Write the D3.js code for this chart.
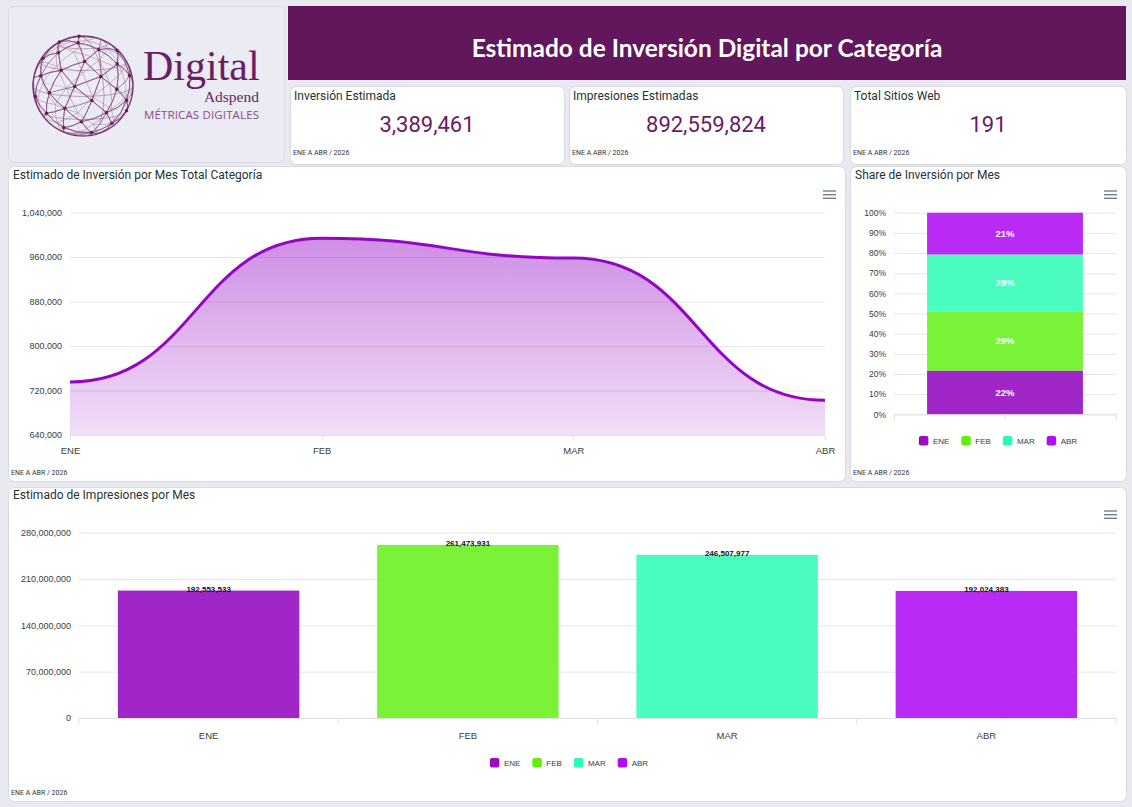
<!DOCTYPE html>
<html>
<head>
<meta charset="UTF-8">
<script src="https://d3js.org/d3.v7.min.js"></script>
<style>
  body { margin: 0; background: #e9e9f1; }
  svg { display: block; }
  svg text { font-family: "Liberation Sans", Arial, sans-serif; }
  .rob { font-family: Roboto, "Liberation Sans", sans-serif !important; }
</style>
</head>
<body>
<svg id="canvas"></svg>
<script>
const W = 1132, H = 807;

// datos
const meses = ["ENE", "FEB", "MAR", "ABR"];
const inversionMes = [735200, 993800, 958100, 702361];
const impresionesMes = [192553533, 261473931, 246507977, 192024383];
const coloresMes = ["#9b0cc1", "#63ef0c", "#27fcb5", "#b30bf6"];
const coloresBarra = ["#a026c8", "#79f237", "#4bfcbf", "#b92af5"];

const kpiTitulos = ["Inversión Estimada", "Impresiones Estimadas", "Total Sitios Web"];
const kpiValores = [3389461, 892559824, 191];
const periodo = "ENE A ABR / 2026";

const ticksInversion = [640000, 720000, 800000, 880000, 960000, 1040000];
const ticksImpresiones = [0, 70000000, 140000000, 210000000, 280000000];
const ticksShare = [0, 0.1, 0.2, 0.3, 0.4, 0.5, 0.6, 0.7, 0.8, 0.9, 1];

const fmt = d3.format(",");

const svg = d3.select("#canvas").attr("width", W).attr("height", H);
svg.append("rect").attr("width", W).attr("height", H).attr("fill", "#e9e9f1");

function card(x, y, w, h, fill) {
  svg.append("rect")
    .attr("x", x + 0.5).attr("y", y + 0.5)
    .attr("width", w).attr("height", h)
    .attr("rx", 6)
    .attr("fill", fill || "#fff")
    .attr("stroke", "#d9d9e1");
}
function menu(x, y) {
  [0, 3.7, 7.3].forEach(d => {
    svg.append("line")
      .attr("x1", x).attr("x2", x + 13)
      .attr("y1", y + d).attr("y2", y + d)
      .attr("stroke", "#6e8192").attr("stroke-width", 1.4);
  });
}
function footer(x, y) {
  svg.append("text").attr("class", "rob")
    .attr("x", x).attr("y", y)
    .attr("font-size", 7).attr("fill", "#333")
    .text(periodo);
}
function titulo(x, y, t) {
  svg.append("text").attr("class", "rob")
    .attr("x", x).attr("y", y)
    .attr("font-size", 12).attr("fill", "#263238")
    .text(t);
}

// ---------- logo ----------
card(8, 6, 276, 156, "#ebebf3");

const logo = svg.append("g");
const proj = d3.geoOrthographic().scale(50).translate([83, 86]).rotate([25, -12]);
const projBack = d3.geoOrthographic().scale(50).translate([83, 86]).rotate([25 - 180, 12]).reflectX(true);
const gp = d3.geoPath(proj), gpBack = d3.geoPath(projBack);

// nodos de la red (esfera de fibonacci)
const nNodos = 56;
const nodos = d3.range(nNodos).map(i => {
  const y = 1 - (i + 0.5) / nNodos * 2;
  const lon = (i * 137.508) % 360 - 180;
  return [lon, Math.asin(y) * 180 / Math.PI];
});
const aristas = [];
nodos.forEach((a, i) => {
  nodos.map((b, j) => ({ j, d: d3.geoDistance(a, b) }))
    .filter(o => o.j !== i)
    .sort((p, q) => p.d - q.d)
    .slice(0, 5)
    .forEach(o => aristas.push([a, nodos[o.j]]));
});
const red = { type: "MultiLineString", coordinates: aristas };

logo.append("path").datum(red).attr("d", gpBack)
  .attr("fill", "none").attr("stroke", "#b58ab0").attr("stroke-width", 0.6).attr("opacity", 0.6);
logo.append("path").datum(d3.geoGraticule().step([180, 30])()).attr("d", gp)
  .attr("fill", "none").attr("stroke", "#9a6494").attr("stroke-width", 0.6);
logo.append("path").datum(red).attr("d", gp)
  .attr("fill", "none").attr("stroke", "#874a80").attr("stroke-width", 0.7);
logo.append("path").datum({ type: "Sphere" }).attr("d", gp)
  .attr("fill", "none").attr("stroke", "#7a3272").attr("stroke-width", 1.3);
logo.selectAll("circle").data(nodos.filter(n => d3.geoDistance(n, [-25, 12]) < Math.PI / 2))
  .join("circle")
  .attr("cx", d => proj(d)[0]).attr("cy", d => proj(d)[1])
  .attr("r", 1.8).attr("fill", "#6a1d62");

svg.append("text").attr("x", 143).attr("y", 80)
  .style("font-family", '"Liberation Serif", serif')
  .attr("font-size", 42).attr("fill", "#6a1f62").text("Digital");
svg.append("text").attr("x", 259).attr("y", 102).attr("text-anchor", "end")
  .style("font-family", '"Liberation Serif", serif')
  .attr("font-size", 15.5).attr("fill", "#6a1f62").text("Adspend");
svg.append("text").attr("x", 144).attr("y", 119)
  .style("font-family", '"Open Sans", sans-serif')
  .attr("font-size", 11.5).attr("fill", "#8b4a87").attr("textLength", 115)
  .text("MÉTRICAS DIGITALES");

// ---------- encabezado ----------
svg.append("rect").attr("x", 288).attr("y", 6).attr("width", 838).attr("height", 74).attr("fill", "#62165b");
const head = svg.append("text").attr("x", 707).attr("y", 57).attr("text-anchor", "middle")
  .style("font-family", "Lato, sans-serif").attr("font-weight", 700)
  .attr("font-size", 24).attr("fill", "#fff")
  .text("Estimado de Inversión Digital por Categoría");
head.attr("font-size", 24 * 471 / head.node().getComputedTextLength());

// ---------- KPIs ----------
const kpiX = [290, 569, 850], kpiW = [274, 274, 276];
kpiTitulos.forEach((t, i) => {
  card(kpiX[i], 86, kpiW[i], 78);
  titulo(kpiX[i] + 4, 100, t);
  svg.append("text").attr("class", "rob")
    .attr("x", kpiX[i] + kpiW[i] / 2).attr("y", 132).attr("text-anchor", "middle")
    .attr("font-size", 22).attr("fill", "#6a1b64")
    .text(fmt(kpiValores[i]));
  footer(kpiX[i] + 3, 155);
});

// ---------- inversión por mes (área) ----------
card(8, 166, 837, 315);
titulo(13, 179, "Estimado de Inversión por Mes Total Categoría");
menu(823, 191);
footer(11, 475);

const xA = d3.scalePoint().domain(meses).range([70, 825]);
const yA = d3.scaleLinear().domain([640000, 1040000]).range([435, 212.5]);

const gA = svg.append("g");
gA.append("g").attr("transform", "translate(70,0)")
  .call(d3.axisLeft(yA).tickValues(ticksInversion).tickSize(-755).tickPadding(8).tickFormat(fmt))
  .call(g => g.select(".domain").remove())
  .call(g => g.selectAll("line").attr("stroke", "#e6e6e6"))
  .call(g => g.selectAll("text").attr("font-size", 9).attr("fill", "#373d3f").attr("dy", "0.32em"));

const grad = svg.append("defs").append("linearGradient").attr("id", "gArea")
  .attr("x1", 0).attr("y1", 0).attr("x2", 0).attr("y2", 1);
grad.append("stop").attr("offset", 0).attr("stop-color", "#9304c4").attr("stop-opacity", 0.45);
grad.append("stop").attr("offset", 1).attr("stop-color", "#9304c4").attr("stop-opacity", 0.13);

const datosA = meses.map((m, i) => ({ m, v: inversionMes[i] }));
gA.append("path").datum(datosA)
  .attr("d", d3.area().x(d => xA(d.m)).y0(435).y1(d => yA(d.v)).curve(d3.curveBumpX))
  .attr("fill", "url(#gArea)");
gA.append("path").datum(datosA)
  .attr("d", d3.line().x(d => xA(d.m)).y(d => yA(d.v)).curve(d3.curveBumpX))
  .attr("fill", "none").attr("stroke", "#9304c4").attr("stroke-width", 3);

gA.append("g").attr("transform", "translate(0,435)")
  .call(d3.axisBottom(xA).tickSize(6).tickPadding(6))
  .call(g => g.select(".domain").attr("stroke", "#e0e0e0"))
  .call(g => g.selectAll("line").attr("stroke", "#e0e0e0"))
  .call(g => g.selectAll("text").attr("font-size", 9.5).attr("fill", "#373d3f"));

// ---------- share por mes (barra apilada) ----------
card(850, 166, 276, 315);
titulo(855, 179, "Share de Inversión por Mes");
menu(1104, 191);
footer(853, 475);

const total = d3.sum(inversionMes);
const fila = {};
meses.forEach((m, i) => fila[m] = inversionMes[i] / total);
const pila = d3.stack().keys(meses)([fila]);

const xS = d3.scaleBand().domain(["share"]).range([894, 1116]).padding(0.175);
const yS = d3.scaleLinear().domain([0, 1]).range([414.3, 212.7]);

const gS = svg.append("g");
gS.append("g").attr("transform", "translate(894,0)")
  .call(d3.axisLeft(yS).tickValues(ticksShare).tickSize(-222).tickPadding(8).tickFormat(d3.format(".0%")))
  .call(g => g.select(".domain").remove())
  .call(g => g.selectAll("line").attr("stroke", "#e6e6e6"))
  .call(g => g.selectAll("text").attr("font-size", 8.5).attr("fill", "#373d3f"));

gS.selectAll("rect.seg").data(pila).join("rect").attr("class", "seg")
  .attr("x", xS("share")).attr("width", xS.bandwidth())
  .attr("y", d => yS(d[0][1])).attr("height", d => yS(d[0][0]) - yS(d[0][1]))
  .attr("fill", (d, i) => coloresBarra[i]);
gS.selectAll("text.lab").data(pila).join("text").attr("class", "lab")
  .attr("x", xS("share") + xS.bandwidth() / 2)
  .attr("y", d => (yS(d[0][0]) + yS(d[0][1])) / 2).attr("dy", "0.35em")
  .attr("text-anchor", "middle").attr("font-size", 9.5).attr("font-weight", 700).attr("fill", "#fff")
  .text(d => Math.round(fila[d.key] * 100) + "%");

gS.append("g").attr("transform", "translate(0,414.3)")
  .call(d3.axisBottom(xS).tickSize(6).tickFormat(""))
  .call(g => g.select(".domain").attr("stroke", "#e0e0e0"))
  .call(g => g.selectAll("line").attr("stroke", "#e0e0e0"));

function leyenda(cx, cy) {
  const g = svg.append("g");
  let x = 0;
  meses.forEach((m, i) => {
    g.append("rect").attr("x", x).attr("y", cy - 5).attr("width", 9.5).attr("height", 9.5)
      .attr("rx", 2).attr("fill", coloresMes[i]);
    const t = g.append("text").attr("x", x + 14).attr("y", cy).attr("dy", "0.35em")
      .attr("font-size", 8).attr("fill", "#373d3f").text(m);
    x += 14 + t.node().getComputedTextLength() + 12;
  });
  g.attr("transform", `translate(${cx - (x - 12) / 2},0)`);
}
leyenda(998, 441);

// ---------- impresiones por mes (barras) ----------
card(8, 487, 1118, 314);
titulo(13, 499, "Estimado de Impresiones por Mes");
menu(1104, 511);
footer(11, 795);

const xB = d3.scaleBand().domain(meses).range([79, 1116]).paddingInner(0.3).paddingOuter(0.15);
const yB = d3.scaleLinear().domain([0, 280000000]).range([718, 532.7]);

const gB = svg.append("g");
gB.append("g").attr("transform", "translate(79,0)")
  .call(d3.axisLeft(yB).tickValues(ticksImpresiones).tickSize(-1037).tickPadding(8).tickFormat(fmt))
  .call(g => g.select(".domain").remove())
  .call(g => g.selectAll("line").attr("stroke", "#e6e6e6"))
  .call(g => g.selectAll("text").attr("font-size", 9).attr("fill", "#373d3f"));

gB.selectAll("rect.bar").data(meses).join("rect").attr("class", "bar")
  .attr("x", d => xB(d)).attr("width", xB.bandwidth())
  .attr("y", (d, i) => yB(impresionesMes[i])).attr("height", (d, i) => 718 - yB(impresionesMes[i]))
  .attr("fill", (d, i) => coloresBarra[i]);
gB.selectAll("text.val").data(meses).join("text").attr("class", "val")
  .attr("x", d => xB(d) + xB.bandwidth() / 2).attr("y", (d, i) => yB(impresionesMes[i]) + 1)
  .attr("text-anchor", "middle").attr("font-size", 8).attr("font-weight", 700).attr("fill", "#111")
  .text((d, i) => fmt(impresionesMes[i]));

gB.append("g").attr("transform", "translate(0,718)")
  .call(d3.axisBottom(xB).tickSize(0).tickPadding(14))
  .call(g => g.select(".domain").attr("stroke", "#e0e0e0"))
  .call(g => g.selectAll("text").attr("font-size", 9.5).attr("fill", "#373d3f"));
// marcas entre categorías
gB.selectAll("line.sep").data(d3.range(meses.length + 1)).join("line").attr("class", "sep")
  .attr("x1", i => 79 + i * xB.step()).attr("x2", i => 79 + i * xB.step())
  .attr("y1", 718).attr("y2", 724).attr("stroke", "#e0e0e0");

leyenda(569, 763);
</script>
</body>
</html>
